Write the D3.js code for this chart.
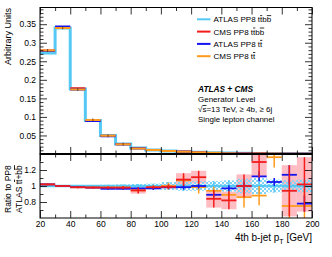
<!DOCTYPE html>
<html><head><meta charset="utf-8">
<script src="https://cdn.jsdelivr.net/npm/d3@7"></script>
<style>
body{margin:0;background:#fff}
svg{display:block}
text{font-family:"Liberation Sans",Arial,Helvetica,sans-serif;fill:#000}
</style>
</head><body>
<svg id="c" width="332" height="257"></svg>
<script>
// ---------- data ----------
const binEdges = [20,30,40,50,60,70,80,90,100,110,120,130,140,150,160,170,180,190,200];
// upper panel: normalised distributions
const atlasTtbb = [0.272,0.340,0.175,0.090,0.050,0.027,0.016,0.011,0.008,0.006,0.0045,0.0033,0.0025,0.0018,0.0013,0.0010,0.0007,0.0005];
const cmsTtbb   = [0.279,0.341,0.177,0.089,0.049,0.0265,0.0152,0.0108,0.0079,0.0065,0.0050,0.0028,0.0020,0.0018,0.0017,null,0.0007,0.0005];
const atlasTt   = [0.278,0.344,0.174,0.089,0.048,0.026,0.0155,0.0107,0.0079,0.0060,0.0045,0.0029,0.0024,0.0018,0.0015,0.00105,0.0008,0.0004];
const cmsTt     = [0.279,0.340,0.174,0.092,0.049,0.0265,0.0151,0.0108,0.0080,0.0064,0.0044,0.0031,0.0022,0.0015,0.0011,0.0014,0.0005,0.0004];
// lower panel: ratio to ATLAS PP8 ttbb
const bandAtlasTtbb = [0.008,0.006,0.008,0.012,0.015,0.02,0.025,0.03,0.05,0.06,0.06,0.06,0.07,0.09,0.1,0.08,0.07,0.08];
const ratioCmsTtbb  = [1.02,1.0,0.985,0.98,0.98,0.98,0.945,0.985,0.99,1.08,1.11,0.84,0.82,1.0,1.30,null,0.94,1.02];
const errCmsTtbb    = [0.012,0.01,0.012,0.012,0.015,0.02,0.04,0.02,0.03,0.08,0.08,0.11,0.11,0.145,0.19,0,0.32,0.34];
const ratioAtlasTt  = [1.02,1.0,0.985,0.98,0.965,0.965,0.97,0.97,0.985,0.985,1.0,0.89,0.97,1.0,1.12,1.05,1.14,0.78];
const errAtlasTt    = [0.005,0.005,0.006,0.008,0.01,0.012,0.015,0.02,0.02,0.03,0.03,0.03,0.04,0.05,0.06,0.05,0.12,0.1];
const ratioCmsTt    = [1.02,1.0,0.985,0.985,0.98,0.98,0.945,0.98,1.0,1.07,0.985,0.94,0.89,0.86,0.88,1.36,0.75,0.75];
const errCmsTt      = [0.01,0.01,0.012,0.015,0.02,0.02,0.03,0.03,0.04,0.06,0.08,0.05,0.06,0.13,0.12,0.13,0.2,0.2];
// ticks
const xMajor = [20,40,60,80,100,120,140,160,180,200];
const xMinor = [30,50,70,90,110,130,150,170,190];
const yTopMajor = [0.05,0.1,0.15,0.2,0.25,0.3,0.35];
const yTopLabels = ["0.05","0.1","0.15","0.2","0.25","0.3","0.35"];
const yBotMajor = [0.8,1.0,1.2];
const yBotLabels = ["0.8","1","1.2"];
const yBotMinor = [0.7,0.9,1.1,1.3];
const legendNames = [["ATLAS PP8 ","tt","bb"],["CMS PP8 ","tt","bb"],["ATLAS PP8 ","tt",""],["CMS PP8 ","tt",""]];

// ---------- styles ----------
const cLight="#55c8f5", cRed="#f21c1c", cBlue="#1414f0", cOrange="#ff9a1c", cPink="#ffb0b8", cCheck="#82d4f6";

const svg = d3.select("#c");
const L=40,R=312,T=7.5,M=154,B=218;
const x = d3.scaleLinear().domain([binEdges[0],binEdges[binEdges.length-1]]).range([L,R]);
const yTop = d3.scaleLinear().domain([0,0.395]).range([M,T]);
const yBot = d3.scaleLinear().domain([0.6,1.4]).range([B,M]);
const bins = atlasTtbb.map((v,i)=>({i,lo:binEdges[i],hi:binEdges[i+1],c:(binEdges[i]+binEdges[i+1])/2}));

const defs = svg.append("defs");
defs.append("clipPath").attr("id","clipTop").append("rect").attr("x",L).attr("y",T).attr("width",R-L).attr("height",M-T);
defs.append("clipPath").attr("id","clipBot").append("rect").attr("x",L).attr("y",M).attr("width",R-L).attr("height",B-M);
const pat = defs.append("pattern").attr("id","chk").attr("width",4).attr("height",4).attr("patternUnits","userSpaceOnUse");
pat.append("rect").attr("width",2).attr("height",2).attr("fill",cCheck);
pat.append("rect").attr("x",2).attr("y",2).attr("width",2).attr("height",2).attr("fill",cCheck);

// ---------- upper panel ----------
const gTop = svg.append("g").attr("clip-path","url(#clipTop)");
const stepPts = binEdges.map((e,i)=>[e, atlasTtbb[Math.min(i,atlasTtbb.length-1)]]);
gTop.append("path").attr("d", d3.line().x(d=>x(d[0])).y(d=>yTop(d[1])).curve(d3.curveStepAfter)(stepPts))
  .attr("fill","none").attr("stroke",cLight).attr("stroke-width",3);
function hsegs(g, vals, ys, color, w){
  g.selectAll(null).data(bins.filter(b=>vals[b.i]!=null)).enter().append("line")
    .attr("x1",b=>x(b.lo)).attr("x2",b=>x(b.hi))
    .attr("y1",b=>ys(vals[b.i])).attr("y2",b=>ys(vals[b.i]))
    .attr("stroke",color).attr("stroke-width",w);
}
hsegs(gTop, cmsTtbb, yTop, cRed, 2);
hsegs(gTop, atlasTt, yTop, cBlue, 2);
hsegs(gTop, cmsTt, yTop, cOrange, 2);
// tiny stat error marks
gTop.selectAll(null).data(bins.slice(0,6)).enter().append("line")
  .attr("x1",b=>x(b.c)).attr("x2",b=>x(b.c))
  .attr("y1",b=>yTop(cmsTt[b.i])-1.5).attr("y2",b=>yTop(cmsTt[b.i])+1.5)
  .attr("stroke","#553322").attr("stroke-width",0.8);

// ---------- lower panel ----------
const gBot = svg.append("g").attr("clip-path","url(#clipBot)");
// pink boxes (CMS ttbb uncertainty)
gBot.selectAll(null).data(bins.filter(b=>ratioCmsTtbb[b.i]!=null)).enter().append("rect")
  .attr("x",b=>x(b.lo)).attr("width",b=>x(b.hi)-x(b.lo))
  .attr("y",b=>yBot(ratioCmsTtbb[b.i]+errCmsTtbb[b.i]))
  .attr("height",b=>yBot(ratioCmsTtbb[b.i]-errCmsTtbb[b.i])-yBot(ratioCmsTtbb[b.i]+errCmsTtbb[b.i]))
  .attr("fill",cPink).attr("opacity",0.85);
// checkered band (ATLAS ttbb uncertainty)
gBot.selectAll(null).data(bins).enter().append("rect")
  .attr("x",b=>x(b.lo)).attr("width",b=>x(b.hi)-x(b.lo))
  .attr("y",b=>yBot(1+bandAtlasTtbb[b.i]))
  .attr("height",b=>yBot(1-bandAtlasTtbb[b.i])-yBot(1+bandAtlasTtbb[b.i]))
  .attr("fill","url(#chk)");
// reference line
hsegs(gBot, atlasTtbb.map(()=>1), yBot, cLight, 2.5);
gBot.selectAll(null).data(bins).enter().append("line")
  .attr("x1",b=>x(b.c)).attr("x2",b=>x(b.c))
  .attr("y1",b=>yBot(1+bandAtlasTtbb[b.i])).attr("y2",b=>yBot(1-bandAtlasTtbb[b.i]))
  .attr("stroke",cLight).attr("stroke-width",1.5);
function cross(g, vals, errs, color){
  const d = bins.filter(b=>vals[b.i]!=null);
  hsegs(g, vals, yBot, color, 1.8);
  g.selectAll(null).data(d).enter().append("line")
    .attr("x1",b=>x(b.c)).attr("x2",b=>x(b.c))
    .attr("y1",b=>yBot(vals[b.i]+errs[b.i])).attr("y2",b=>yBot(vals[b.i]-errs[b.i]))
    .attr("stroke",color).attr("stroke-width",1.5);
}
cross(gBot, ratioCmsTt, errCmsTt, cOrange);
cross(gBot, ratioAtlasTt, errAtlasTt, cBlue);
cross(gBot, ratioCmsTtbb, errCmsTtbb, cRed);

// ---------- axes ----------
function styleAxis(g){ g.select(".domain").remove(); g.selectAll("text").style("font-size","8.5px").attr("fill","#000"); g.selectAll("line").attr("stroke","#000").attr("stroke-width",0.8); }
function ax(gen, tx, ty){ const g = svg.append("g").attr("transform",`translate(${tx},${ty})`).call(gen); styleAxis(g); return g; }
const noLab = ()=>"";
// upper
ax(d3.axisLeft(yTop).tickValues(yTopMajor).tickFormat((d,i)=>yTopLabels[i]).tickSizeInner(-7).tickSizeOuter(0).tickPadding(4), L, 0);
ax(d3.axisLeft(yTop).tickValues(d3.range(0.01,0.395,0.01).filter(v=>Math.abs(v*20-Math.round(v*20))>1e-6)).tickFormat(noLab).tickSizeInner(-3.5).tickSizeOuter(0), L, 0);
ax(d3.axisRight(yTop).tickValues(yTopMajor).tickFormat(noLab).tickSizeInner(-7).tickSizeOuter(0), R, 0);
ax(d3.axisRight(yTop).tickValues(d3.range(0.01,0.395,0.01).filter(v=>Math.abs(v*20-Math.round(v*20))>1e-6)).tickFormat(noLab).tickSizeInner(-3.5).tickSizeOuter(0), R, 0);
ax(d3.axisTop(x).tickValues(xMajor).tickFormat(noLab).tickSizeInner(-7).tickSizeOuter(0), 0, T);
ax(d3.axisTop(x).tickValues(xMinor).tickFormat(noLab).tickSizeInner(-3.5).tickSizeOuter(0), 0, T);
ax(d3.axisBottom(x).tickValues(xMajor).tickFormat(noLab).tickSizeInner(-7).tickSizeOuter(0), 0, M);
ax(d3.axisBottom(x).tickValues(xMinor).tickFormat(noLab).tickSizeInner(-3.5).tickSizeOuter(0), 0, M);
// lower
ax(d3.axisLeft(yBot).tickValues(yBotMajor).tickFormat((d,i)=>yBotLabels[i]).tickSizeInner(-7).tickSizeOuter(0).tickPadding(4), L, 0);
ax(d3.axisLeft(yBot).tickValues(yBotMinor).tickFormat(noLab).tickSizeInner(-3.5).tickSizeOuter(0), L, 0);
ax(d3.axisRight(yBot).tickValues(yBotMajor).tickFormat(noLab).tickSizeInner(-7).tickSizeOuter(0), R, 0);
ax(d3.axisRight(yBot).tickValues(yBotMinor).tickFormat(noLab).tickSizeInner(-3.5).tickSizeOuter(0), R, 0);
ax(d3.axisTop(x).tickValues(xMajor).tickFormat(noLab).tickSizeInner(-7).tickSizeOuter(0), 0, M);
ax(d3.axisTop(x).tickValues(xMinor).tickFormat(noLab).tickSizeInner(-3.5).tickSizeOuter(0), 0, M);
ax(d3.axisBottom(x).tickValues(xMajor).tickSizeInner(-7).tickSizeOuter(0).tickPadding(2.5), 0, B);
ax(d3.axisBottom(x).tickValues(xMinor).tickFormat(noLab).tickSizeInner(-3.5).tickSizeOuter(0), 0, B);
// frames
svg.append("rect").attr("x",L).attr("y",T).attr("width",R-L).attr("height",M-T).attr("fill","none").attr("stroke","#000").attr("stroke-width",1);
svg.append("rect").attr("x",L).attr("y",M).attr("width",R-L).attr("height",B-M).attr("fill","none").attr("stroke","#000").attr("stroke-width",1);
svg.append("line").attr("x1",L).attr("x2",R).attr("y1",M).attr("y2",M).attr("stroke","#000").attr("stroke-width",2);

// ---------- titles ----------
svg.append("text").attr("transform","translate(10.5,8) rotate(-90)").attr("text-anchor","end").style("font-size","9px").text("Arbitrary Units");
svg.append("text").attr("transform","translate(10.5,213) rotate(-90)").attr("text-anchor","start").style("font-size","8.5px").text("Ratio to PP8");
const t2 = svg.append("text").attr("transform","translate(22,213) rotate(-90)").attr("text-anchor","start").style("font-size","8.5px");
t2.append("tspan").text("ATLAS t");
t2.append("tspan").style("text-decoration","overline").text("t");
t2.append("tspan").text("+b");
t2.append("tspan").style("text-decoration","overline").text("b");
const xt = svg.append("text").attr("x",R).attr("y",241).attr("text-anchor","end").style("font-size","10px");
xt.append("tspan").text("4th b-jet p");
xt.append("tspan").attr("dy",2.5).style("font-size","7px").text("T");
xt.append("tspan").attr("dy",-2.5).text(" [GeV]");

// ---------- legend ----------
const legColors = [cLight,cRed,cBlue,cOrange];
const legY = [19.3,31.6,43.9,56.2];
legendNames.forEach((n,i)=>{
  svg.append("line").attr("x1",197).attr("x2",210.5).attr("y1",legY[i]).attr("y2",legY[i]).attr("stroke",legColors[i]).attr("stroke-width",2);
  const t = svg.append("text").attr("x",213.5).attr("y",legY[i]+3).style("font-size","8px");
  t.append("tspan").text(n[0]);
  t.append("tspan").text("t");
  t.append("tspan").style("text-decoration","overline").text("t");
  if(n[2]){ t.append("tspan").text("b"); t.append("tspan").style("text-decoration","overline").text("b"); }
});

// ---------- text block ----------
const tb = svg.append("g").attr("transform","translate(198,0)");
tb.append("text").attr("y",92).style("font-size","8.3px").style("font-weight","bold").style("font-style","italic").text("ATLAS + CMS");
tb.append("text").attr("y",102).style("font-size","8px").text("Generator Level");
const s3 = tb.append("text").attr("y",112).style("font-size","8px");
s3.append("tspan").text("\u221A");
s3.append("tspan").style("text-decoration","overline").text("s");
s3.append("tspan").text("=13 TeV, \u2265 4b, \u2265 6j");
tb.append("text").attr("y",122).style("font-size","8px").text("Single lepton channel");
</script>
</body></html>
